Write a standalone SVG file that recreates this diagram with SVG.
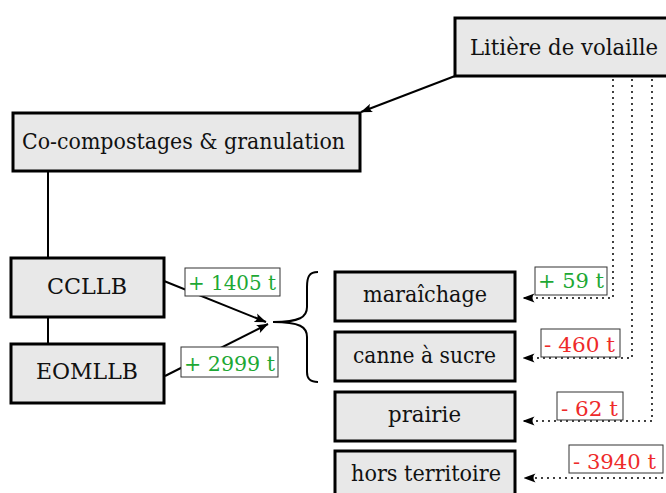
<svg xmlns="http://www.w3.org/2000/svg" width="666" height="493" viewBox="0 0 666 493">
<style>
.node rect{fill:#e8e8e8;stroke:#000;stroke-width:3}
.node text{font-family:"DejaVu Serif","Liberation Serif",serif;font-size:22px;fill:#111}
.lab rect{fill:#fff;stroke:#333;stroke-width:1}
.lab text{font-family:"DejaVu Serif","Liberation Serif",serif;font-size:21px}
.g text{fill:#1da834}
.r text{fill:#ee2a2a}
.solid{fill:none;stroke:#000;stroke-width:2}
.dot{fill:none;stroke:#000;stroke-width:2;stroke-dasharray:0 6;stroke-linecap:round}
</style>
<defs>
<marker id="ah" viewBox="0 0 12 10" refX="11.5" refY="5" markerWidth="12" markerHeight="10" orient="auto" markerUnits="userSpaceOnUse">
<path d="M0,0.5 Q4,5 0,9.5 L12,5 z" fill="#000" stroke="none"/>
</marker>
</defs>
<g id="connectors">
<line class="solid" x1="455" y1="76" x2="361" y2="112" marker-end="url(#ah)"/>
<line class="solid" x1="48" y1="171" x2="48" y2="257"/>
<line class="solid" x1="48" y1="317" x2="48" y2="343"/>
<line class="solid" x1="164" y1="281" x2="266" y2="322" marker-end="url(#ah)"/>
<line class="solid" x1="165" y1="376" x2="268" y2="324" marker-end="url(#ah)"/>
<path class="solid" d="M318,272 C309,272 307,277 307,287 L307,307 C307,317 300,322 273,322 C300,322 307,327 307,337 L307,372 C307,378 309,382 318,382"/>
<path class="dot" d="M613,80 L613,298 L523,298" marker-end="url(#ah)"/>
<path class="dot" d="M632,80 L632,358 L523,358" marker-end="url(#ah)"/>
<path class="dot" d="M652,80 L652,421 L523,421" marker-end="url(#ah)"/>
<path class="dot" d="M672,80 L672,478 L524,478" marker-end="url(#ah)"/>
</g>
<g id="litiere" class="node"><rect x="455" y="18" width="220" height="58"/><text x="470" y="55" textLength="188" lengthAdjust="spacingAndGlyphs">Litière de volaille</text></g>
<g id="cocompost" class="node"><rect x="13" y="113" width="347" height="58"/><text x="22" y="149" textLength="323" lengthAdjust="spacingAndGlyphs">Co-compostages &amp; granulation</text></g>
<g id="clibb" class="node"><rect x="11" y="258" width="153" height="59"/><text x="47" y="294" textLength="80" lengthAdjust="spacingAndGlyphs">CCLLB</text></g>
<g id="eomllb" class="node"><rect x="11" y="344" width="153" height="59"/><text x="36" y="379" textLength="102" lengthAdjust="spacingAndGlyphs">EOMLLB</text></g>
<g id="maraichage" class="node"><rect x="335" y="272" width="180" height="49"/><text x="363" y="302" textLength="124" lengthAdjust="spacingAndGlyphs">maraîchage</text></g>
<g id="canne" class="node"><rect x="335" y="332" width="180" height="49"/><text x="353" y="363" textLength="143" lengthAdjust="spacingAndGlyphs">canne à sucre</text></g>
<g id="prairie" class="node"><rect x="335" y="392" width="180" height="49"/><text x="388" y="422" textLength="73" lengthAdjust="spacingAndGlyphs">prairie</text></g>
<g id="hors" class="node"><rect x="335" y="451" width="180" height="49"/><text x="351" y="481" textLength="150" lengthAdjust="spacingAndGlyphs">hors territoire</text></g>
<g id="lab1405" class="lab g"><rect x="185" y="268" width="95" height="28"/><text x="188" y="290" textLength="88" lengthAdjust="spacingAndGlyphs">+ 1405 t</text></g>
<g id="lab2999" class="lab g"><rect x="181" y="347" width="97" height="30"/><text x="184" y="371" textLength="91" lengthAdjust="spacingAndGlyphs">+ 2999 t</text></g>
<g id="lab59" class="lab g"><rect x="535" y="267" width="72" height="28"/><text x="538" y="288" textLength="66" lengthAdjust="spacingAndGlyphs">+ 59 t</text></g>
<g id="lab460" class="lab r"><rect x="541" y="329" width="79" height="28"/><text x="544" y="352" textLength="71" lengthAdjust="spacingAndGlyphs">- 460 t</text></g>
<g id="lab62" class="lab r"><rect x="557" y="392" width="66" height="28"/><text x="561" y="416" textLength="57" lengthAdjust="spacingAndGlyphs">- 62 t</text></g>
<g id="lab3940" class="lab r"><rect x="569" y="445" width="94" height="28"/><text x="573" y="469" textLength="83" lengthAdjust="spacingAndGlyphs">- 3940 t</text></g>
</svg>
